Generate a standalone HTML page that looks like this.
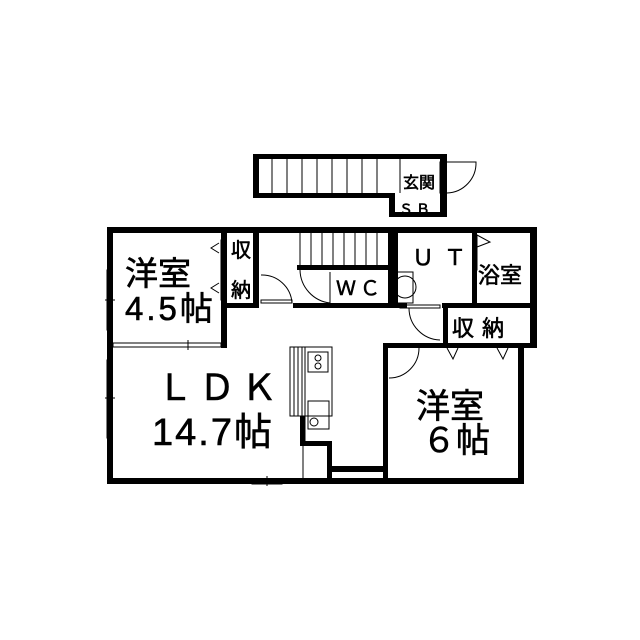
<!DOCTYPE html>
<html><head><meta charset="utf-8"><style>
html,body{margin:0;padding:0;background:#fff;}
svg{display:block}
text{font-family:"Liberation Sans","Noto Sans CJK JP",sans-serif;fill:#000;stroke:#000;stroke-width:0.6;}
</style></head><body>
<svg width="640" height="640" viewBox="0 0 640 640" xmlns="http://www.w3.org/2000/svg">
<rect width="640" height="640" fill="#fff"/>
<g fill="#000">
<rect x="253" y="154" width="194" height="5"/>
<rect x="253" y="154" width="6" height="44"/>
<rect x="253" y="193" width="142" height="5"/>
<rect x="389" y="193" width="6" height="24"/>
<rect x="389" y="212" width="58" height="5"/>
<rect x="440" y="154" width="7" height="63"/>
<rect x="107" y="227" width="430" height="6"/>
<rect x="107" y="227" width="6" height="257"/>
<rect x="530" y="227" width="7" height="121"/>
<rect x="518" y="343" width="6" height="141"/>
<rect x="107" y="478" width="417" height="6"/>
<rect x="221" y="233" width="6" height="115"/>
<rect x="253" y="233" width="6" height="75"/>
<rect x="221" y="303" width="38" height="5"/>
<rect x="293" y="303" width="114" height="5"/>
<rect x="297" y="265" width="93" height="5"/>
<rect x="388" y="233" width="10" height="75"/>
<rect x="472" y="233" width="5" height="75"/>
<rect x="442" y="303" width="95" height="5"/>
<rect x="443" y="303" width="5" height="45"/>
<rect x="383" y="343" width="154" height="5"/>
<rect x="383" y="343" width="5" height="141"/>
<rect x="300" y="416" width="5" height="30"/>
<rect x="300" y="441" width="32" height="5"/>
<rect x="327" y="441" width="5" height="43"/>
<rect x="330" y="466" width="55" height="6"/>
</g>
<g fill="none" stroke="#000" stroke-width="1">
<line x1="272" y1="159" x2="272" y2="193"/><line x1="287" y1="159" x2="287" y2="193"/>
<line x1="302" y1="159" x2="302" y2="193"/><line x1="317" y1="159" x2="317" y2="193"/>
<line x1="332" y1="159" x2="332" y2="193"/><line x1="347" y1="159" x2="347" y2="193"/>
<line x1="362" y1="159" x2="362" y2="193"/><line x1="377" y1="159" x2="377" y2="193"/>
<line x1="400" y1="159" x2="400" y2="193"/>
<rect x="440" y="162" width="3" height="31"/>
<path d="M447 162 L476 162 A30 30 0 0 1 447 193"/>
<line x1="300" y1="233" x2="300" y2="265"/><line x1="311" y1="233" x2="311" y2="265"/>
<line x1="322" y1="233" x2="322" y2="265"/><line x1="333" y1="233" x2="333" y2="265"/>
<line x1="344" y1="233" x2="344" y2="265"/><line x1="355" y1="233" x2="355" y2="265"/>
<line x1="366" y1="233" x2="366" y2="265"/><line x1="377" y1="233" x2="377" y2="265"/>
<path d="M300 270 A34 34 0 0 0 330 303"/><line x1="330" y1="272" x2="330" y2="303"/>
<path d="M261 275 A30 30 0 0 1 292 303"/><rect x="261" y="300" width="31" height="3"/>
<rect x="393" y="272" width="20" height="31"/><circle cx="405" cy="287" r="11"/>
<rect x="400" y="305" width="40" height="3"/>
<path d="M409 308 A32 32 0 0 0 440 340"/>
<path d="M419 348 A30 30 0 0 1 389 378"/>
<rect x="221" y="240" width="3" height="60"/>
<path d="M219 243 L211 248 L219 253"/><path d="M219 283 L211 288 L219 293"/>
<rect x="474" y="235" width="3" height="35"/>
<path d="M477 235 L490 242 L477 247"/>
<path d="M447 348 L453 359 L458 348"/><path d="M497 348 L503 359 L508 348"/>
<rect x="107" y="270" width="4" height="60"/><line x1="105" y1="300" x2="115" y2="300"/>
<rect x="107" y="360" width="4" height="78"/><line x1="105" y1="398" x2="115" y2="398"/>
<rect x="113" y="343" width="108" height="4"/><line x1="188" y1="340" x2="188" y2="350"/>
<rect x="252" y="480" width="30" height="4"/><line x1="267" y1="476" x2="267" y2="486"/>
<rect x="290" y="347" width="42" height="69"/>
<line x1="294" y1="347" x2="294" y2="416"/><line x1="298" y1="347" x2="298" y2="416"/>
<line x1="302" y1="347" x2="302" y2="416"/><line x1="305" y1="347" x2="305" y2="441"/>
<rect x="308" y="352" width="20" height="20"/><circle cx="318" cy="358" r="3"/><circle cx="318" cy="366" r="3"/>
<rect x="308" y="401" width="21" height="28"/><circle cx="314" cy="422" r="4"/>
<line x1="303" y1="446" x2="303" y2="478"/>
</g>
<text x="403" y="188" font-size="16">玄関</text>
<text x="399" y="214" font-size="14" letter-spacing="3">ＳＢ</text>
<text x="231" y="257" font-size="20">収</text>
<text x="231" y="297" font-size="20">納</text>
<text x="125" y="285" font-size="33">洋室</text>
<text x="125" y="320" font-size="33" letter-spacing="3">4.5帖</text>
<text x="336" y="295" font-size="20" letter-spacing="4">ＷＣ</text>
<text x="412" y="265" font-size="22" letter-spacing="10">ＵＴ</text>
<text x="478" y="283" font-size="22">浴室</text>
<text x="452" y="336" font-size="22" letter-spacing="8">収納</text>
<text x="157" y="400" font-size="36" letter-spacing="6">ＬＤＫ</text>
<text x="152" y="445" font-size="38" letter-spacing="2">14.7帖</text>
<text x="416" y="418" font-size="34">洋室</text>
<text x="422" y="452" font-size="34">６帖</text>
</svg>
</body></html>
